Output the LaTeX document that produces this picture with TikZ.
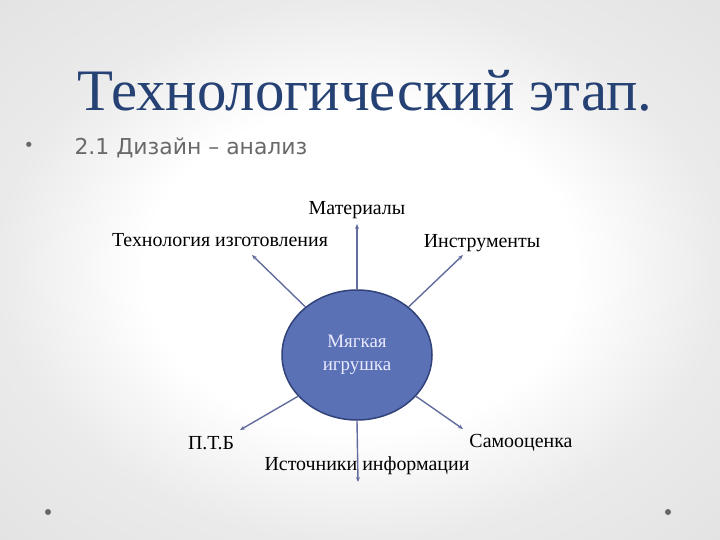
\documentclass[tikz,border=0pt]{standalone}
\usepackage{fontspec}
\setmainfont{Liberation Serif}
\newfontfamily\bulletfont{DejaVu Sans}
\usetikzlibrary{arrows.meta,shapes.geometric}
\definecolor{titleblue}{RGB}{38,66,116}
\definecolor{toyfill}{RGB}{90,113,182}
\definecolor{toyedge}{RGB}{48,66,120}
\definecolor{arrowgray}{RGB}{100,108,158}
\definecolor{bulletgray}{RGB}{105,105,105}
\pgfdeclareradialshading{slidebg}{\pgfpoint{0bp}{0bp}}{color(0bp)=(white); color(15bp)=(white); color(25bp)=(black!8); color(50bp)=(black!15)}
\tikzset{
	lbl/.style={font=\fontsize{20}{22}\selectfont, text=black, inner sep=0pt},
	spoke/.style={draw=arrowgray, line width=1.4bp, -{Stealth[length=5bp,width=4bp]}}
}

\begin{document}
\begin{tikzpicture}[x=1bp, y=-1bp]
		%%%%% START %%%%%
		\useasboundingbox (0, 0) rectangle (720, 540);
		\shade[shading=slidebg] (0, 0) rectangle (720, 540);
		
		\node[text=titleblue, font=\fontsize{59}{62}\selectfont, anchor=base] (title) at (365, 111) {Технологический этап.};
		\node[text=bulletgray, font=\bulletfont\fontsize{18}{18}\selectfont] (dot) at (29, 147) {•};
		\node[text=bulletgray, font=\bulletfont\fontsize{22}{24}\selectfont, anchor=base west] (sub) at (71, 155) {2.1 Дизайн – анализ};
		
		\node[ellipse, draw=toyedge, line width=1.5bp, fill=toyfill, minimum width=150bp, minimum height=130bp,
			text=white!92!blue, align=center, font=\fontsize{19}{23}\selectfont] (toy) at (357, 355) {Мягкая\\игрушка};
		
		\node[lbl] (mat) at (357, 210) {Материалы};
		\node[lbl] (tech) at (220, 240) {Технология изготовления};
		\node[lbl] (instr) at (482, 243) {Инструменты};
		\node[lbl] (ptb) at (211, 443) {П.Т.Б};
		\node[lbl] (self) at (521, 443) {Самооценка};
		\node[lbl] (src) at (367, 466) {Источники информации};
		
		\coordinate (tipmat) at (357, 224);
		\coordinate (tiptech) at (252, 255);
		\coordinate (tipinstr) at (463, 255);
		\coordinate (tipptb) at (240, 430);
		\coordinate (tipself) at (463, 429);
		\coordinate (tipsrc) at (358, 482);
		
		\draw[spoke] (toy.north) -- (tipmat);
		\draw[spoke] (toy.137) -- (tiptech);
		\draw[spoke] (toy.43) -- (tipinstr);
		\draw[spoke] (toy.215) -- (tipptb);
		\draw[spoke] (toy.-35) -- (tipself);
		\draw[spoke] (toy.south) -- (tipsrc);
		
		\fill[black!60] (48, 512) circle (3);
		\fill[black!60] (668, 512) circle (3);
		%%%%% END %%%%%
\end{tikzpicture}
\end{document}
